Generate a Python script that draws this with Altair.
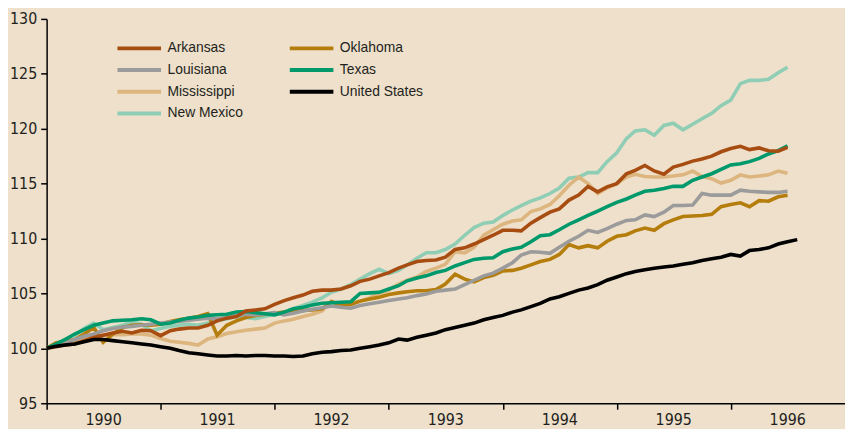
import altair as alt
import pandas as pd

# Monthly index values, Jan 1990 = 100
START = "1990-01-01"
YEARS = [1990, 1991, 1992, 1993, 1994, 1995, 1996]

ARKANSAS = [100.0, 100.15, 100.3, 100.4, 100.7, 101.0, 101.2, 101.4, 101.55, 101.4, 101.65, 101.6,
            101.15, 101.6, 101.75, 101.85, 101.85, 102.1, 102.5, 102.75, 102.9, 103.4, 103.5, 103.6,
            104.0, 104.35, 104.6, 104.85, 105.2, 105.3, 105.3, 105.4, 105.7, 106.1, 106.3, 106.6,
            106.9, 107.3, 107.6, 107.9, 108.0, 108.05, 108.3, 109.0, 109.15, 109.5, 109.9, 110.3,
            110.75, 110.75, 110.7, 111.4, 111.9, 112.4, 112.7, 113.5, 113.95, 114.75, 114.25, 114.7,
            115.0, 115.9, 116.2, 116.65, 116.15, 115.85, 116.5, 116.75, 117.05, 117.25, 117.5, 117.9,
            118.2, 118.4, 118.1, 118.25, 118.0, 117.95, 118.3]
LOUISIANA = [100.0, 100.3, 100.5, 100.8, 101.1, 101.3, 101.6, 101.8, 101.95, 102.0, 102.1, 102.2,
             102.3, 102.4, 102.45, 102.55, 102.65, 102.75, 102.7, 102.8, 103.0, 103.1, 103.05, 103.15,
             103.25, 103.05, 103.2, 103.4, 103.55, 103.7, 103.85, 103.75, 103.65, 103.9, 104.05, 104.2,
             104.35, 104.5, 104.6, 104.8, 104.95, 105.2, 105.3, 105.4, 105.8, 106.2, 106.6, 106.85,
             107.3, 107.8, 108.5, 108.8, 108.75, 108.65, 109.2, 109.75, 110.2, 110.75, 110.55, 110.9,
             111.3, 111.65, 111.7, 112.15, 112.0, 112.4, 113.0, 113.0, 113.05, 114.1, 113.95, 113.95,
             113.95, 114.4, 114.3, 114.25, 114.2, 114.2, 114.3]
MISSISSIPPI = [100.0, 100.3, 100.5, 100.7, 100.9, 101.1, 101.2, 101.25, 101.25, 101.3, 101.3, 101.2,
               100.9, 100.65, 100.55, 100.45, 100.3, 100.85, 101.05, 101.35, 101.5, 101.65, 101.75, 101.85,
               102.3, 102.5, 102.65, 102.9, 103.1, 103.4, 104.3, 103.95, 104.1, 104.3, 104.6, 105.0,
               105.3, 105.85, 106.2, 106.5, 107.0, 107.3, 107.65, 108.8, 108.7, 109.2, 110.3, 110.8,
               111.3, 111.6, 111.7, 112.45, 112.7, 113.1, 113.9, 114.85, 115.6, 115.0, 114.1, 114.6,
               115.0, 115.6, 115.85, 115.65, 115.6, 115.6, 115.7, 115.8, 116.15, 115.65, 115.45, 115.05,
               115.3, 115.8, 115.6, 115.7, 115.8, 116.15, 115.95]
NEW_MEXICO = [100.0, 100.4, 100.8, 101.2, 101.8, 102.3, 101.7, 101.9, 102.1, 102.4, 102.2, 101.6,
              101.8, 102.0, 102.1, 102.2, 102.1, 102.3, 102.5, 102.7, 102.9, 102.8, 102.7, 102.9,
              103.1, 103.3, 103.6, 103.9, 104.2, 104.6, 105.1, 105.4, 105.8, 106.3, 106.8, 107.2,
              106.8, 107.1, 107.6, 108.2, 108.7, 108.7, 109.0, 109.5, 110.3, 111.0, 111.4, 111.5,
              112.1, 112.6, 113.0, 113.4, 113.7, 114.1, 114.6, 115.5, 115.6, 116.0, 116.0, 117.0,
              117.8, 119.1, 119.8, 119.9, 119.4, 120.3, 120.5, 119.9, 120.4, 120.9, 121.4, 122.1,
              122.6, 124.1, 124.4, 124.4, 124.5, 125.1, 125.6]
OKLAHOMA = [100.0, 100.5, 100.6, 100.8, 101.3, 101.9, 100.55, 101.3, 101.9, 102.1, 102.15, 102.1,
            102.2, 102.45, 102.6, 102.75, 102.9, 103.15, 101.2, 102.1, 102.5, 102.8, 103.0, 103.1,
            103.2, 103.3, 103.35, 103.45, 103.5, 103.6, 104.25, 103.9, 104.0, 104.3, 104.5, 104.65,
            104.9, 105.05, 105.15, 105.25, 105.25, 105.35, 105.85, 106.75, 106.3, 106.05, 106.45, 106.65,
            107.05, 107.1, 107.3, 107.6, 107.9, 108.1, 108.55, 109.45, 109.15, 109.35, 109.15, 109.75,
            110.2, 110.35, 110.7, 110.95, 110.75, 111.35, 111.7, 112.0, 112.05, 112.1, 112.2, 112.9,
            113.1, 113.25, 112.9, 113.45, 113.4, 113.8, 113.95]
TEXAS = [100.0, 100.4, 100.8, 101.3, 101.7, 102.1, 102.3, 102.5, 102.55, 102.6, 102.7, 102.6,
         102.2, 102.3, 102.55, 102.75, 102.85, 103.0, 103.05, 103.1, 103.3, 103.35, 103.25, 103.15,
         103.05, 103.3, 103.6, 103.75, 103.95, 104.1, 104.15, 104.2, 104.25, 105.0, 105.05, 105.1,
         105.4, 105.7, 106.15, 106.4, 106.6, 106.9, 107.1, 107.5, 107.8, 108.1, 108.2, 108.25,
         108.8, 109.05, 109.2, 109.7, 110.25, 110.35, 110.8, 111.3, 111.7, 112.1, 112.5, 112.9,
         113.3, 113.6, 113.95, 114.3, 114.4, 114.55, 114.75, 114.75, 115.3, 115.6, 115.9, 116.3,
         116.7, 116.8, 117.0, 117.3, 117.7, 118.0, 118.45]
UNITED_STATES = [100.0, 100.2, 100.3, 100.4, 100.6, 100.8, 100.8, 100.7, 100.6, 100.5, 100.4, 100.3,
                 100.15, 100.0, 99.8, 99.6, 99.5, 99.4, 99.3, 99.3, 99.35, 99.3, 99.35, 99.35,
                 99.3, 99.3, 99.25, 99.3, 99.5, 99.65, 99.7, 99.8, 99.85, 100.0, 100.15, 100.3,
                 100.5, 100.85, 100.75, 101.0, 101.2, 101.4, 101.7, 101.9, 102.1, 102.3, 102.6, 102.8,
                 103.0, 103.3, 103.5, 103.8, 104.1, 104.5, 104.7, 105.0, 105.3, 105.5, 105.8, 106.2,
                 106.5, 106.8, 107.0, 107.15, 107.3, 107.4, 107.5, 107.65, 107.8, 108.0, 108.15, 108.3,
                 108.55, 108.4, 108.9, 109.0, 109.15, 109.5, 109.7, 109.9]

SERIES = {
    "Arkansas": ARKANSAS,
    "Louisiana": LOUISIANA,
    "Mississippi": MISSISSIPPI,
    "New Mexico": NEW_MEXICO,
    "Oklahoma": OKLAHOMA,
    "Texas": TEXAS,
    "United States": UNITED_STATES,
}
COLORS = {
    "Arkansas": "#A84D12",
    "Louisiana": "#9B9B9B",
    "Mississippi": "#DDB57E",
    "New Mexico": "#8FCDB5",
    "Oklahoma": "#B47D0C",
    "Texas": "#00996B",
    "United States": "#000000",
}
DRAW_ORDER = ["New Mexico", "Mississippi", "Oklahoma", "Louisiana", "Texas", "Arkansas", "United States"]
LEGEND_ORDER = ["Arkansas", "Louisiana", "Mississippi", "New Mexico", "Oklahoma", "Texas", "United States"]

rows = []
for name, vals in SERIES.items():
    dates = pd.date_range(START, periods=len(vals), freq="MS")
    for d, v in zip(dates, vals):
        rows.append({"date": d, "series": name, "value": v})
df = pd.DataFrame(rows)

BG = "#EEE0CB"
AXIS_FONT = "Liberation Sans Narrow, DejaVu Sans Condensed, Liberation Sans"
TEXT = "#231F20"

x_enc = alt.X(
    "date:T",
    scale=alt.Scale(domain=[alt.DateTime(year=1990, month=1, date=1),
                            alt.DateTime(year=1997, month=1, date=1)]),
    axis=alt.Axis(
        values=[alt.DateTime(year=y, month=1, date=1) for y in YEARS],
        format="%Y", title=None, grid=False, labelOffset=57, labelFlush=False,
        labelOverlap=False, tickSize=6, labelPadding=2,
    ),
)
y_enc = alt.Y(
    "value:Q",
    scale=alt.Scale(domain=[95, 130], nice=False, zero=False),
    axis=alt.Axis(values=[95, 100, 105, 110, 115, 120, 125, 130], title=None, grid=False,
                  tickSize=6, labelPadding=4),
)
color_enc = alt.Color(
    "series:N",
    scale=alt.Scale(domain=LEGEND_ORDER, range=[COLORS[n] for n in LEGEND_ORDER]),
    legend=alt.Legend(
        title=None, orient="none", legendX=86, legendY=22, columns=2,
        columnPadding=38, rowPadding=5, symbolType="M-4,0H4", symbolSize=121,
        symbolStrokeWidth=4, labelFontSize=14, labelFont="Liberation Sans",
        labelOffset=21, labelColor=TEXT, padding=0,
    ),
)

layers = []
for name in DRAW_ORDER:
    layers.append(
        alt.Chart(df)
        .transform_filter(alt.datum.series == name)
        .mark_line(strokeWidth=3.6)
        .encode(x=x_enc, y=y_enc, color=color_enc)
    )

chart = (
    alt.layer(*layers)
    .properties(
        width=806, height=388,
        autosize=alt.AutoSizeParams(type="none"),
        padding={"left": 39, "top": 9, "right": 0, "bottom": 24},
        background=BG,
    )
    .configure_view(stroke=None)
    .configure_axis(
        domainColor="#000000", domainWidth=1.5, tickColor="#000000", tickWidth=1.5,
        labelFont=AXIS_FONT, labelFontSize=16, labelColor=TEXT,
    )
)

chart.save("out.html", embed_options={"renderer": "svg", "actions": False})
